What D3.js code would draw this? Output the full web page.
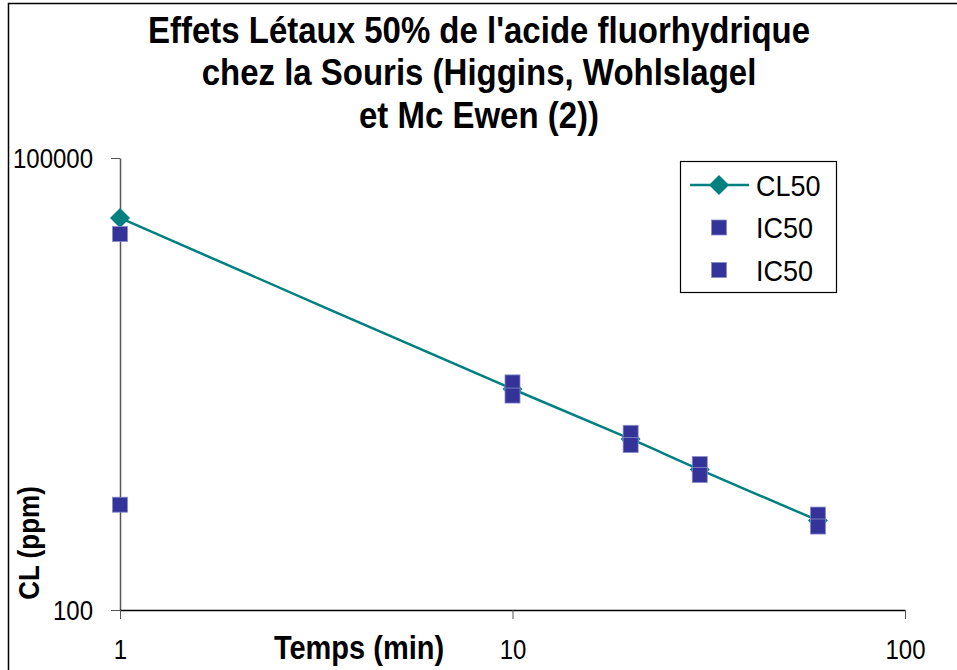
<!DOCTYPE html>
<html>
<head>
<meta charset="utf-8">
<script src="https://cdn.jsdelivr.net/npm/d3@7"></script>
<style>
  body { margin: 0; background: #fff; }
  text { font-family: "Liberation Sans", Arial, sans-serif; fill: #000; }
</style>
</head>
<body>
<svg id="chart" width="957" height="670"></svg>
<script>
// data
const temps = [1, 10, 20, 30, 60];
const cl50 = [40000, 2930, 1365, 855, 393];
const ic50Haut = [31300, 3240, 1500, 930, 430];
const ic50Bas = [500, 2650, 1245, 787, 358];
const xTicks = [1, 10, 100];
const yTicks = [100, 100000];
const titleLines = ["Effets Létaux 50% de l'acide fluorhydrique",
                    "chez la Souris (Higgins, Wohlslagel",
                    "et Mc Ewen (2))"];

const svg = d3.select("#chart");
const teal = "#008080";
const blue = "#333399";
const stretch = 1.12; // the original text is a bit taller than wide

// chart area border (runs off the page on the right / bottom)
svg.append("rect")
    .attr("x", 8.5).attr("y", 3.5)
    .attr("width", 1000).attr("height", 1000)
    .attr("fill", "none")
    .attr("stroke", "#000")
    .attr("stroke-width", 1.5);

const xScale = d3.scaleLog().domain([1, 100]).range([120, 905]);
const yScale = d3.scaleLog().domain([100, 100000]).range([610, 158]);

// title
svg.selectAll(".title")
    .data(titleLines)
    .enter()
    .append("text")
    .attr("class", "title")
    .attr("transform", (d, i) => `translate(479,${30 + i * 42.5}) scale(1,${stretch})`)
    .attr("dy", "0.35em")
    .attr("text-anchor", "middle")
    .style("font-size", "33px")
    .style("font-weight", "bold")
    .text(d => d);

// y axis
const yAxis = d3.axisLeft(yScale)
    .tickValues(yTicks)
    .tickFormat(d3.format("d"))
    .tickSizeInner(9)
    .tickSizeOuter(0)
    .tickPadding(18);
const gy = svg.append("g")
    .attr("transform", "translate(120,0)")
    .call(yAxis);
gy.select(".domain").attr("stroke", "#555").attr("stroke-width", 1.5);
gy.selectAll(".tick line").attr("stroke", "#555");
gy.selectAll("text")
    .attr("dy", "0.36em")
    .attr("transform", `scale(1,${stretch})`)
    .style("font-size", "24px")
    .style("font-family", "'Liberation Sans', Arial, sans-serif");

// x axis
const xAxis = d3.axisBottom(xScale)
    .tickValues(xTicks)
    .tickFormat(d3.format("d"))
    .tickSizeInner(9)
    .tickSizeOuter(0)
    .tickPadding(18);
const gx = svg.append("g")
    .attr("transform", "translate(0,610)")
    .call(xAxis);
gx.select(".domain").attr("stroke", "#000").attr("stroke-width", 1.5);
gx.selectAll(".tick line").attr("stroke", "#555");
gx.selectAll("text")
    .attr("transform", `scale(1,${stretch})`)
    .style("font-size", "24px")
    .style("font-family", "'Liberation Sans', Arial, sans-serif");

// axis titles
svg.append("text")
    .attr("transform", `translate(359,648) scale(1,${stretch})`)
    .attr("dy", "0.35em")
    .attr("text-anchor", "middle")
    .style("font-size", "29px")
    .style("font-weight", "bold")
    .text("Temps (min)");

svg.append("text")
    .attr("transform", `translate(29,543) rotate(-90) scale(1,${stretch})`)
    .attr("dy", "0.35em")
    .attr("text-anchor", "middle")
    .style("font-size", "26px")
    .style("font-weight", "bold")
    .text("CL (ppm)");

// CL50 line + diamonds
const line = d3.line()
    .x(d => xScale(d[0]))
    .y(d => yScale(d[1]))
    .curve(d3.curveCatmullRom);
svg.append("path")
    .datum(d3.zip(temps, cl50))
    .attr("d", line)
    .attr("fill", "none")
    .attr("stroke", teal)
    .attr("stroke-width", 2.5);

const diamond = d3.symbol().type(d3.symbolSquare).size(200);
svg.selectAll(".cl50")
    .data(d3.zip(temps, cl50))
    .enter()
    .append("path")
    .attr("class", "cl50")
    .attr("d", diamond)
    .attr("transform", d => `translate(${xScale(d[0])},${yScale(d[1])}) rotate(45)`)
    .attr("fill", teal);

// IC50 squares (two series)
const sq = 15;
[ic50Haut, ic50Bas].forEach((serie, k) => {
    svg.selectAll(".ic50-" + k)
        .data(d3.zip(temps, serie))
        .enter()
        .append("rect")
        .attr("class", "ic50-" + k)
        .attr("x", d => xScale(d[0]) - sq / 2)
        .attr("y", d => yScale(d[1]) - sq / 2)
        .attr("width", sq)
        .attr("height", sq)
        .attr("fill", blue)
        .attr("stroke", "#8a8ac8")
        .attr("stroke-width", 0.8);
});

// legend
const lg = svg.append("g").attr("transform", "translate(680,161)");
lg.append("rect")
    .attr("x", 0.5).attr("y", 0.5)
    .attr("width", 156).attr("height", 131)
    .attr("fill", "#fff")
    .attr("stroke", "#000")
    .attr("stroke-width", 1.2);
const legendItems = [
    { name: "CL50", type: "line" },
    { name: "IC50", type: "square" },
    { name: "IC50", type: "square" }
];
legendItems.forEach((it, i) => {
    const cy = 24 + i * 42.5;
    if (it.type === "line") {
        lg.append("line")
            .attr("x1", 10).attr("x2", 69)
            .attr("y1", cy).attr("y2", cy)
            .attr("stroke", teal).attr("stroke-width", 2.5);
        lg.append("path")
            .attr("d", diamond)
            .attr("transform", `translate(39,${cy}) rotate(45)`)
            .attr("fill", teal);
    } else {
        lg.append("rect")
            .attr("x", 39 - sq / 2).attr("y", cy - sq / 2)
            .attr("width", sq).attr("height", sq)
            .attr("fill", blue)
            .attr("stroke", "#8a8ac8")
            .attr("stroke-width", 0.8);
    }
    lg.append("text")
        .attr("transform", `translate(76,${cy}) scale(1,${stretch})`)
        .attr("dy", "0.36em")
        .style("font-size", "27px")
        .text(it.name);
});
</script>
</body>
</html>
